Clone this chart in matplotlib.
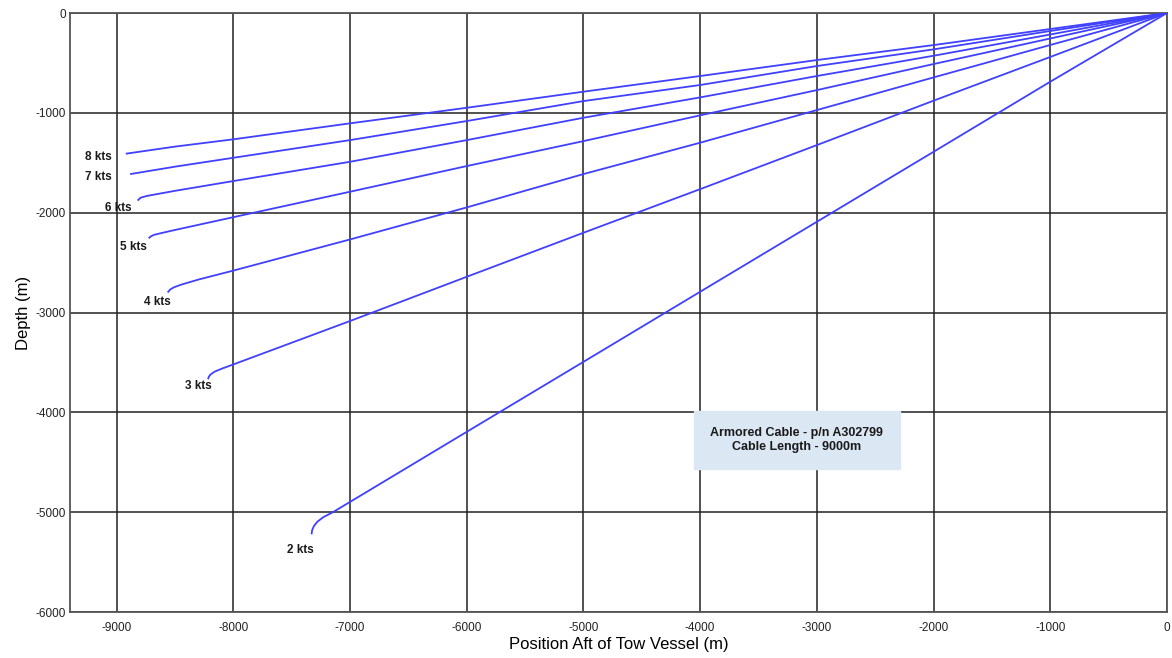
import numpy as np
import matplotlib
matplotlib.use('Agg')
import matplotlib.pyplot as plt

plt.rcParams['font.family'] = ['Liberation Sans', 'DejaVu Sans']
plt.rcParams['axes.unicode_minus'] = False

# cable shapes: x = position aft (m), y = depth (m)
x_grid = [0, -1000, -2000, -3000, -4000, -5000, -6000, -7000, -8000]

y_8kts = [0, -160, -321, -471, -631, -788, -949, -1105, -1265]
x_8tail = [-8500, -8914]
y_8tail = [-1338, -1408]

y_7kts = [0, -180, -364, -531, -721, -882, -1082, -1273, -1450]
x_7tail = [-8500, -8877]
y_7tail = [-1539, -1612]

y_6kts = [0, -215, -428, -631, -845, -1049, -1273, -1490, -1683]
x_6tail = [-8500, -8740, -8795, -8815]
y_6tail = [-1781, -1832, -1850, -1872]

y_5kts = [0, -255, -511, -772, -1025, -1283, -1533, -1790, -2045]
x_5tail = [-8500, -8620, -8680, -8705, -8720]
y_5tail = [-2173, -2205, -2222, -2236, -2251]

y_4kts = [0, -320, -645, -972, -1299, -1613, -1947, -2268, -2580]
x_4tail = [-8300, -8450, -8510, -8540, -8558]
y_4tail = [-2670, -2722, -2748, -2768, -2792]

y_3kts = [0, -440, -878, -1323, -1764, -2201, -2642, -3085, -3520]
x_3tail = [-8100, -8160, -8195, -8210, -8215]
y_3tail = [-3563, -3592, -3620, -3643, -3660]

x_2kts = [0, -1000, -2000, -3000, -4000, -5000, -6000, -7000]
y_2kts = [0, -688, -1390, -2091, -2792, -3494, -4195, -4897]
x_2tail = [-7150, -7229, -7280, -7310, -7325, -7329]
y_2tail = [-5002, -5050, -5095, -5140, -5180, -5213]

labels = ['8 kts', '7 kts', '6 kts', '5 kts', '4 kts', '3 kts', '2 kts']
label_x = [-9160, -9160, -8989, -8860, -8655, -8303, -7429]
label_y = [-1443, -1643, -1954, -2345, -2896, -3737, -5381]

curves = [
    (x_grid + x_8tail, y_8kts + y_8tail),
    (x_grid + x_7tail, y_7kts + y_7tail),
    (x_grid + x_6tail, y_6kts + y_6tail),
    (x_grid + x_5tail, y_5kts + y_5tail),
    (x_grid + x_4tail, y_4kts + y_4tail),
    (x_grid + x_3tail, y_3kts + y_3tail),
    (x_2kts + x_2tail, y_2kts + y_2tail),
]

fig = plt.figure(figsize=(11.72, 6.58), dpi=100)
ax = fig.add_axes([0.0597, 0.0699, 0.9360, 0.9103])

for xs, ys in curves:
    ax.plot(xs, ys, color='#4040ff', lw=1.3, zorder=3, solid_joinstyle='round')

for t, lx, ly in zip(labels, label_x, label_y):
    ax.text(lx, ly, t, ha='center', va='center', fontsize=8.5,
            fontweight='bold', color='#1a1a1a', zorder=4)

ax.text(-3171, -4279, 'Armored Cable - p/n A302799\nCable Length - 9000m',
        ha='center', va='center', fontsize=9, fontweight='bold',
        color='#1a1a1a', linespacing=1.2, zorder=5,
        bbox=dict(boxstyle='square,pad=1.3', facecolor='#dce7f4',
                  edgecolor='#dce7f4'))

ax.set_xlim(-9400, 0)
ax.set_ylim(-6000, 0)
ax.set_xticks(np.arange(-9000, 1, 1000))
ax.set_yticks(np.arange(-6000, 1, 1000))
ax.grid(True, color='#222222', lw=1.1)
ax.set_axisbelow(True)
ax.tick_params(length=0, labelsize=8.5, colors='#222222')
ax.tick_params(axis='x', pad=7)
ax.tick_params(axis='y', pad=3)
for s in ax.spines.values():
    s.set_color('#555555')
    s.set_linewidth(1.3)

ax.set_xlabel('Position Aft of Tow Vessel (m)', fontsize=12, labelpad=2)
ax.set_ylabel('Depth (m)', fontsize=12, labelpad=3)

fig.savefig('out.png', dpi=100)
